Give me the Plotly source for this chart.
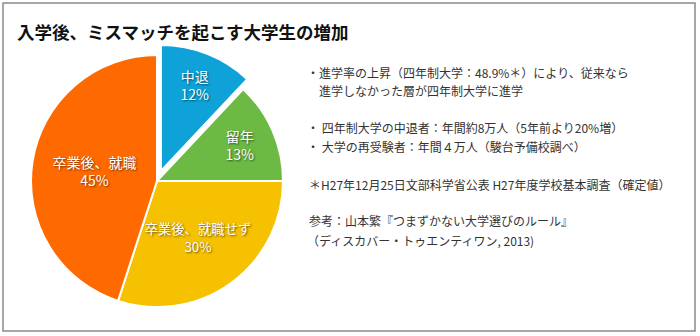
import plotly.graph_objects as go

W, H = 700, 336

categories = ["中退", "留年", "卒業後、就職せず", "卒業後、就職"]
values = [12, 13, 30, 45]
colors = ["#0ea2d8", "#6cb943", "#f6c100", "#ff6a00"]
pulls = [0.085, 0, 0, 0]

title_text = "入学後、ミスマッチを起こす大学生の増加"
note_lines = [
    "・進学率の上昇（四年制大学：48.9%＊）により、従来なら",
    "　進学しなかった層が四年制大学に進学",
    "・ 四年制大学の中退者：年間約8万人（5年前より20%増）",
    "・ 大学の再受験者：年間４万人（駿台予備校調べ）",
    "＊H27年12月25日文部科学省公表 H27年度学校基本調査（確定値）",
    "参考：山本繁『つまずかない大学選びのルール』",
    "（ディスカバー・トゥエンティワン, 2013)",
]
note_y = [72, 91, 127, 146, 184, 220, 240]
note_x = [305, 305, 305, 305, 307, 307, 305]

FONT = "Noto Sans CJK JP"

# pie geometry (pixels)
cx, cy, r = 157, 181, 126
half = r * (1 + max(pulls))

fig = go.Figure(go.Pie(
    labels=categories,
    values=values,
    sort=False,
    direction="clockwise",
    rotation=0,
    pull=pulls,
    marker=dict(colors=colors, line=dict(color="white", width=2)),
    texttemplate="%{label}<br>%{percent:.0%}",
    textposition="inside",
    insidetextorientation="horizontal",
    textfont=dict(family=FONT, size=14, color="white",
                  shadow="1px 1px 2px rgba(0,0,0,0.55)"),
    hoverinfo="label+percent",
    domain=dict(x=[(cx - half) / W, (cx + half) / W],
                y=[(H - cy - half) / H, (H - cy + half) / H]),
    showlegend=False,
))

annotations = [dict(
    text="<b>" + title_text + "</b>", x=15 / W, y=1 - 31 / H,
    xref="paper", yref="paper", xanchor="left", yanchor="middle",
    showarrow=False, font=dict(family=FONT, size=17.5, color="#111111"),
)]
for t, x, y in zip(note_lines, note_x, note_y):
    annotations.append(dict(
        text=t, x=x / W, y=1 - y / H, xref="paper", yref="paper",
        xanchor="left", yanchor="middle", showarrow=False,
        font=dict(family=FONT, size=12, color="#333333"),
    ))

fig.update_layout(
    width=W, height=H,
    margin=dict(l=0, r=0, t=0, b=0),
    paper_bgcolor="white", plot_bgcolor="white",
    annotations=annotations,
    shapes=[dict(type="rect", xref="paper", yref="paper",
                 x0=3 / W, x1=695 / W, y0=1 - 331 / H, y1=1 - 3 / H,
                 line=dict(color="#8a8a8a", width=1.5))],
)

fig.write_html("out.html")
